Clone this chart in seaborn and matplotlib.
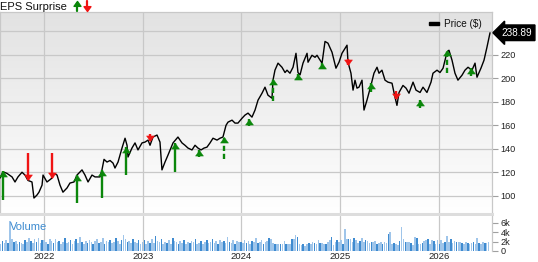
import numpy as np
import pandas as pd
import matplotlib
matplotlib.use("Agg")
import matplotlib.pyplot as plt
import seaborn as sns
from matplotlib.colors import LinearSegmentedColormap
from matplotlib.path import Path
from matplotlib.patches import Rectangle
from matplotlib import transforms

# ---------------- data ----------------
price_dates = [
    2021.554, 2021.584, 2021.625, 2021.676, 2021.706, 2021.736, 2021.777, 2021.807, 2021.838, 2021.878,
    2021.898, 2021.929, 2021.949, 2021.980, 2021.990, 2022.030, 2022.081, 2022.101, 2022.132, 2022.162,
    2022.192, 2022.233, 2022.263, 2022.304, 2022.334, 2022.385, 2022.415, 2022.446, 2022.486, 2022.517,
    2022.567, 2022.587, 2022.608, 2022.638, 2022.669, 2022.699, 2022.719, 2022.750, 2022.790, 2022.821,
    2022.841, 2022.851, 2022.891, 2022.922, 2022.952, 2022.993, 2023.023, 2023.054, 2023.074, 2023.104,
    2023.145, 2023.175, 2023.195, 2023.226, 2023.256, 2023.307, 2023.357, 2023.398, 2023.428, 2023.459,
    2023.499, 2023.530, 2023.560, 2023.591, 2023.621, 2023.651, 2023.682, 2023.712, 2023.753, 2023.783,
    2023.813, 2023.844, 2023.864, 2023.905, 2023.935, 2023.965, 2024.006, 2024.036, 2024.067, 2024.107,
    2024.138, 2024.168, 2024.209, 2024.239, 2024.269, 2024.310, 2024.320, 2024.340, 2024.371, 2024.411,
    2024.442, 2024.462, 2024.492, 2024.523, 2024.553, 2024.573, 2024.594, 2024.624, 2024.665, 2024.675,
    2024.715, 2024.746, 2024.766, 2024.786, 2024.817, 2024.847, 2024.877, 2024.918, 2024.958, 2024.989,
    2025.019, 2025.050, 2025.070, 2025.080, 2025.110, 2025.131, 2025.151, 2025.171, 2025.191, 2025.222,
    2025.242, 2025.272, 2025.313, 2025.343, 2025.374, 2025.394, 2025.424, 2025.455, 2025.485, 2025.526,
    2025.556, 2025.576, 2025.597, 2025.637, 2025.668, 2025.698, 2025.739, 2025.769, 2025.810, 2025.840,
    2025.880, 2025.921, 2025.941, 2025.982, 2026.012, 2026.043, 2026.083, 2026.103, 2026.134, 2026.164,
    2026.194, 2026.235, 2026.265, 2026.296, 2026.336, 2026.367, 2026.387, 2026.427, 2026.458, 2026.488,
    2026.519,
]
price_values = [
    115.0, 120.4, 119.0, 116.0, 111.7, 116.0, 120.0, 117.6, 113.0, 111.7,
    98.0, 100.6, 103.0, 109.0, 117.6, 111.7, 115.0, 119.0, 117.6, 109.0,
    103.0, 106.6, 110.8, 111.7, 117.6, 122.0, 117.6, 111.7, 117.6, 116.0,
    116.0, 122.0, 131.0, 128.7, 130.0, 127.8, 123.6, 128.7, 140.6, 149.0,
    143.0, 133.0, 140.6, 145.0, 139.0, 145.0, 145.7, 147.4, 143.0, 150.0,
    151.7, 145.7, 122.0, 128.7, 134.6, 145.0, 150.0, 145.0, 143.0, 140.6,
    139.0, 143.0, 140.6, 139.0, 140.6, 141.4, 145.0, 149.0, 147.4, 149.0,
    150.0, 160.0, 162.7, 164.4, 161.9, 161.9, 166.0, 168.7, 170.4, 167.0,
    173.0, 181.4, 187.4, 192.5, 185.7, 183.1, 198.5, 207.0, 213.0, 209.5,
    205.0, 207.0, 204.4, 209.5, 221.4, 205.0, 203.0, 213.0, 221.4, 213.8,
    219.7, 218.0, 219.7, 217.0, 213.0, 231.5, 230.0, 222.3, 208.7, 213.8,
    221.4, 225.7, 228.3, 213.8, 204.4, 190.0, 198.5, 191.7, 192.5, 198.5,
    173.0, 181.4, 194.2, 204.4, 209.5, 204.4, 207.0, 198.5, 196.8, 195.9,
    184.0, 177.0, 188.0, 194.0, 191.7, 187.4, 196.8, 190.0, 188.0, 192.5,
    188.0, 196.8, 204.4, 207.0, 205.0, 208.7, 222.3, 224.0, 215.5, 204.4,
    198.5, 202.7, 207.0, 209.5, 207.0, 213.0, 201.0, 208.7, 215.5, 226.6,
    238.89,
]
last_price = 238.89

# EPS surprise events: report date, price at report (arrow tip), arrow tail
eps_dates = [2021.584, 2021.838, 2022.081, 2022.334, 2022.587, 2022.831, 2023.074,
             2023.327, 2023.570, 2023.824, 2024.077, 2024.320, 2024.573, 2024.817,
             2025.080, 2025.313, 2025.566, 2025.810, 2026.083, 2026.326]
eps_head = [121.0, 113.4, 115.0, 117.6, 121.9, 141.4, 146.6, 144.9, 138.9, 150.0,
            165.3, 199.3, 203.6, 212.9, 211.2, 195.9, 182.3, 181.4, 224.0, 208.7]
eps_tail = [96.3, 136.3, 136.3, 93.8, 98.0, 117.6, 152.5, 120.2, 132.9, 131.2,
            159.3, 180.6, 198.5, 207.8, 216.3, 188.3, 189.1, 174.6, 204.4, 201.9]
eps_dashed = [False, False, False, False, False, False, False, False, False, True,
              False, True, False, False, False, False, False, False, True, False]

# weekly volume (thousands)
volume_k = [
    1.6, 2.1, 1.8, 2.4, 1.7, 6.5, 2.6, 1.9, 2.2, 1.6, 2.0, 1.8, 1.5, 2.3, 1.9, 2.8, 2.2, 1.7, 2.5, 2.0, 2.7, 1.8, 2.3,
    2.4, 2.0, 1.6, 2.6, 2.1, 1.8, 2.5, 1.9, 2.2, 1.5, 2.0, 2.8, 1.7, 1.9, 2.3, 1.6, 2.1, 2.5, 1.8, 2.9, 2.0, 1.4, 2.2, 1.7, 2.4, 1.9,
    1.5, 2.1, 2.6, 1.8, 2.0, 2.7, 1.6, 2.2, 1.9, 2.4, 1.7, 2.0, 2.8, 2.1, 1.6, 2.3, 3.4, 2.6, 1.9, 2.2, 1.7, 2.5, 2.0, 1.8, 2.3, 1.6,
    1.9, 2.4, 1.6, 2.1, 1.8, 2.5, 1.7, 3.2, 2.2, 1.9, 2.6, 1.5, 2.0, 1.8, 2.3, 1.6, 2.7, 2.1, 1.9, 1.5, 2.2, 1.8, 2.4, 1.6, 2.0, 1.7,
    2.1, 1.9, 2.5, 1.6, 1.8, 2.2, 1.5, 2.0, 2.3, 1.7, 1.9, 2.6, 1.8, 2.1, 1.6, 2.4, 1.9, 2.2, 1.7, 2.9, 2.0, 1.8, 2.3, 1.6, 2.1, 1.9,
    2.0, 1.7, 2.4, 1.8, 2.1, 1.6, 2.2, 1.9, 2.8, 1.7, 2.0, 2.3, 1.6, 1.9, 2.2, 2.7, 2.5, 1.8, 1.5, 1.6, 1.4, 1.5, 1.6, 2.1, 1.5, 1.6,
    1.5, 2.6, 2.6, 3.4, 3.1, 1.6, 1.2, 1.4, 1.1, 1.4, 1.8, 1.6, 2.0, 1.7, 1.5, 2.4, 1.8, 1.7, 1.6, 1.5, 2.0, 2.3, 2.9, 1.3, 1.9, 2.4,
    2.0, 2.4, 1.4, 4.8, 2.6, 2.5, 2.6, 2.0, 2.7, 2.3, 1.8, 2.2, 2.7, 2.0, 2.3, 2.1, 1.8, 2.0, 1.9, 2.2, 1.6, 1.7, 1.9, 1.6, 2.0, 1.8,
    3.6, 4.0, 1.6, 1.8, 1.5, 1.3, 2.1, 5.2, 2.5, 1.9, 1.9, 2.0, 1.8, 1.3, 2.9, 2.7, 1.5, 1.6, 1.8, 2.1, 2.4, 2.6, 1.5, 2.3, 2.1, 1.4,
    2.3, 1.6, 2.4, 1.8, 2.0, 3.2, 2.0, 2.6, 1.8, 2.1, 2.0, 1.9, 2.0, 1.8, 1.4, 1.9, 1.7, 1.6, 1.7, 2.0, 1.6, 2.8, 1.7, 1.5, 1.9, 1.8,
    1.7, 2.0,
]
volume_start = 2021.56
year_ticks = [2022, 2023, 2024, 2025, 2026]
price_ticks = [100, 120, 140, 160, 180, 200, 220, 240]
volume_ticks = [0, 2, 4, 6]
volume_tick_labels = ["0", "2k", "4k", "6k"]

# ---------------- style ----------------
sns.set_style("white")
plt.rcParams["font.family"] = ["Liberation Sans", "DejaVu Sans"]

W, H = 538, 262
fig = plt.figure(figsize=(W / 100, H / 100), dpi=100)
fig.patch.set_facecolor("white")

x0, x1 = 2021.554, 2026.539
plot_right = 492 / W
ax = fig.add_axes([0, 1 - 214 / H, plot_right, (214 - 12) / H])
axv = fig.add_axes([0, 1 - 251 / H, plot_right, (251 - 216) / H], sharex=ax)

grid_c = "#c8c8c8"

# gradient background
cmap = LinearSegmentedColormap.from_list("bg", ["#ffffff", "#e2e2e2"])
ax.imshow(np.linspace(0, 1, 256).reshape(-1, 1), cmap=cmap, origin="lower",
          extent=[0, 1, 0, 1], transform=ax.transAxes, aspect="auto", zorder=0)

# price line
df = pd.DataFrame({"date": price_dates, "price": price_values})
sns.lineplot(data=df, x="date", y="price", ax=ax, color="black", lw=1.0, zorder=4)

ax.set_xlim(x0, x1)
ax.set_ylim(84.4, 256.6)
ax.set_xticks(year_ticks)
ax.set_yticks(price_ticks)
ax.grid(True, color=grid_c, lw=0.9, zorder=1)
ax.set_axisbelow(True)
ax.yaxis.tick_right()
ax.set_yticklabels([str(t) if t != 240 else "" for t in price_ticks])
ax.tick_params(axis="y", right=True, length=4, width=0.8, color="#a0a0a0",
               labelsize=6.6, pad=2, labelcolor="#222222")
ax.tick_params(axis="x", bottom=False, labelbottom=False)
ax.set_xlabel("")
ax.set_ylabel("")
for s in ["top", "right", "left"]:
    ax.spines[s].set_color(grid_c)
    ax.spines[s].set_linewidth(0.9)
ax.spines["bottom"].set_color("#dddddd")
ax.spines["bottom"].set_linewidth(2.2)

# EPS arrows
up_tip = Path([(0, 0), (-0.5, -0.7), (0.5, -0.7), (0, 0)],
              [Path.MOVETO, Path.LINETO, Path.LINETO, Path.CLOSEPOLY])
down_tip = Path([(0, 0), (-0.5, 0.7), (0.5, 0.7), (0, 0)],
                [Path.MOVETO, Path.LINETO, Path.LINETO, Path.CLOSEPOLY])
green, red = "#0b870b", "#f01414"
for d, hd, tl, dash in zip(eps_dates, eps_head, eps_tail, eps_dashed):
    up = hd > tl
    c = green if up else red
    ax.plot([d, d], [tl, hd], color=c, lw=1.7, ls=(0, (2.2, 1.2)) if dash else "-",
            solid_capstyle="butt", zorder=5)
    ax.plot([d], [hd], marker=up_tip if up else down_tip, ms=8, color=c,
            mec=c, mew=0.3, zorder=6)

# legend
ax.add_patch(Rectangle((429 / 492, (214 - 25) / 202), 10 / 492, 3.2 / 202,
                       transform=ax.transAxes, color="black", zorder=7))
ax.text(444 / 492, (214 - 23.8) / 202, "Price ($)", transform=ax.transAxes,
        fontsize=7.2, va="center", ha="left", color="#111111", zorder=7)

# last price box
trans = transforms.blended_transform_factory(ax.transAxes, ax.transData)
ax.text(1.0 + 9.5 / 492, last_price, f"{last_price:.2f}", transform=trans,
        color="white", fontsize=7.2, va="center", ha="left", zorder=8,
        bbox=dict(boxstyle="larrow,pad=0.28", fc="black", ec="black"),
        clip_on=False)

# volume
vol_dates = volume_start + np.arange(len(volume_k)) / 52.18
vol_colors = ["#3f8bd0" if i % 3 == 1 else "#9fc5ea" for i in range(len(volume_k))]
axv.bar(vol_dates, volume_k, width=1.0 / 52.18 * 0.85, color=vol_colors, lw=0,
        antialiased=False, zorder=2)
axv.set_ylim(0, 7.5)
axv.set_yticks(volume_ticks)
axv.set_yticklabels(volume_tick_labels)
axv.yaxis.tick_right()
axv.set_xticks(year_ticks)
axv.set_xticklabels([str(y) for y in year_ticks])
axv.grid(True, axis="x", color=grid_c, lw=0.9, zorder=1)
axv.grid(False, axis="y")
axv.set_axisbelow(True)
axv.tick_params(axis="y", right=True, length=4, width=0.8, color="#a0a0a0",
                labelsize=6.6, pad=2, labelcolor="#222222")
axv.tick_params(axis="x", bottom=False, length=0, labelsize=6.8, pad=0.5, labelcolor="#222222")
for s in ["top", "left", "bottom"]:
    axv.spines[s].set_visible(False)
axv.spines["right"].set_color(grid_c)
axv.spines["right"].set_linewidth(0.9)
axv.text(10 / 492, 0.69, "Volume", transform=axv.transAxes, color="#3d8bd0",
         fontsize=8, va="center", ha="left", zorder=5)
axv.set_xlim(x0, x1)

# EPS Surprise header
fig.text(0, 1 - 6.5 / H, "EPS Surprise", fontsize=8, va="center", ha="left", color="#111111")
for xp, up, c in [(77, True, green), (86.5, False, red)]:
    if up:
        fig.add_artist(plt.Line2D([xp / W, xp / W], [1 - 11 / H, 1 - 3 / H], color=c, lw=1.6,
                                  transform=fig.transFigure))
        fig.add_artist(plt.Line2D([xp / W], [1 - 1 / H], marker=up_tip, ms=7, color=c,
                                  transform=fig.transFigure))
    else:
        fig.add_artist(plt.Line2D([xp / W, xp / W], [1 - 1 / H, 1 - 8 / H], color=c, lw=1.6,
                                  transform=fig.transFigure))
        fig.add_artist(plt.Line2D([xp / W], [1 - 11 / H], marker=down_tip, ms=7, color=c,
                                  transform=fig.transFigure))

fig.savefig("out.png", dpi=100)
